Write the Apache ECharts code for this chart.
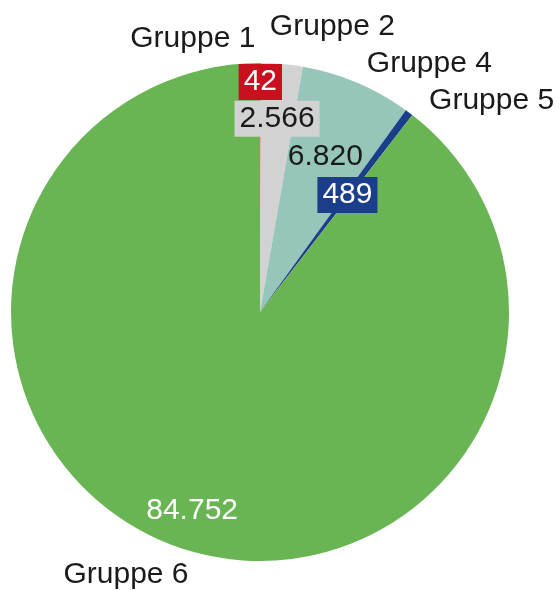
<!DOCTYPE html>
<html>
<head>
<meta charset="utf-8">
<script src="https://cdn.jsdelivr.net/npm/echarts@6/dist/echarts.min.js"></script>
<style>
  html, body { margin: 0; padding: 0; background: #fff; }
  #chart { width: 560px; height: 591px; }
</style>
</head>
<body>
<div id="chart"></div>
<script>
  // data
  var categories = ['Gruppe 1', 'Gruppe 2', 'Gruppe 4', 'Gruppe 5', 'Gruppe 6'];
  var values = [42, 2566, 6820, 489, 84752];

  // styles
  var colors = ['#c8101e', '#d2d2d2', '#96c6b9', '#1a3e8a', '#69b553'];
  var valueTextColor = ['#fff', '#1a1a1a', '#1a1a1a', '#fff', '#fff'];
  var valueBoxColor = ['#c8101e', '#d2d2d2', 'transparent', '#1a3e8a', 'transparent'];
  var valueRadius = [230, 194, 168, 146, 210]; // where the number sits, from the centre
  var nameShift = [[-5, -24, 'right'], [-12, -37], [10, -19], [20, -12], [9, 27]];

  var font = '"Liberation Sans", Arial, sans-serif';
  var center = [260, 312];

  function fmt(v) {
    return String(v).replace(/\B(?=(\d{3})+(?!\d))/g, '.');
  }

  var chart = echarts.init(document.getElementById('chart'));

  var series = [{
    type: 'pie',
    center: center,
    radius: 249,
    startAngle: 90,
    clockwise: true,
    silent: true,
    avoidLabelOverlap: false,
    animation: false,
    itemStyle: { borderWidth: 0 },
    label: {
      show: true,
      position: 'outside',
      formatter: '{b}',
      fontFamily: font,
      fontSize: 30,
      color: '#1a1a1a',
      distanceToLabelLine: 0
    },
    labelLine: { show: false, length: 0, length2: 0 },
    labelLayout: function (p) {
      var s = nameShift[p.dataIndex];
      var r = { dx: s[0], dy: s[1] };
      if (s[2]) r.align = s[2];
      return r;
    },
    data: categories.map(function (c, i) {
      return { name: c, value: values[i], itemStyle: { color: colors[i] } };
    })
  }];

  // one see-through ring per number, so each can sit at its own distance
  valueRadius.forEach(function (rad, k) {
    series.push({
      type: 'pie',
      center: center,
      radius: [rad - 5, rad - 1],
      startAngle: 90,
      clockwise: true,
      silent: true,
      avoidLabelOverlap: false,
      animation: false,
      itemStyle: { color: 'transparent', borderWidth: 0 },
      labelLine: { show: false },
      data: categories.map(function (c, i) {
        return {
          name: c,
          value: values[i],
          label: {
            show: i === k,
            position: 'inside',
            formatter: fmt(values[i]),
            fontFamily: font,
            fontSize: 30,
            lineHeight: 30,
            color: valueTextColor[i],
            backgroundColor: valueBoxColor[i],
            padding: [3, 5]
          }
        };
      })
    });
  });

  chart.setOption({ series: series });
</script>
</body>
</html>
